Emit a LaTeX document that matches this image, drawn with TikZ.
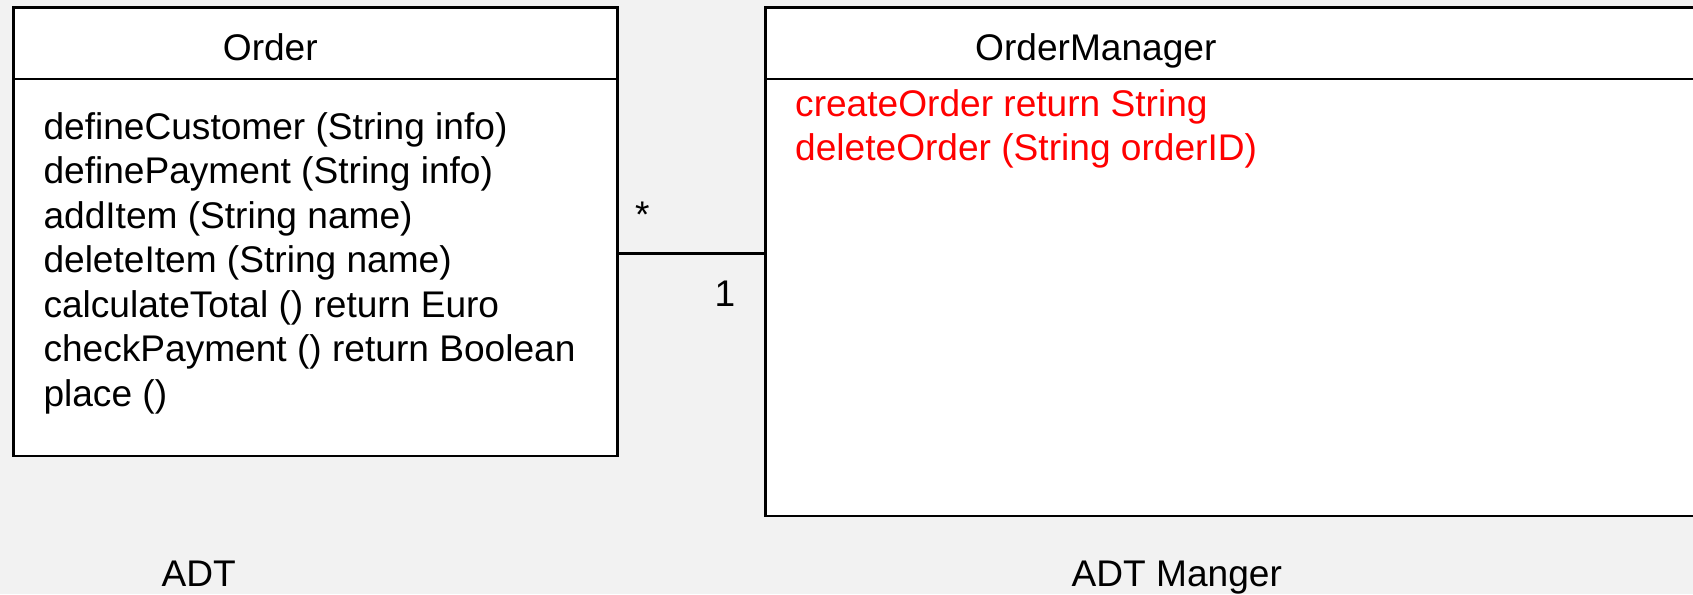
\documentclass[tikz,border=0pt]{standalone}
\usepackage{fontspec}
\setmainfont{Liberation Sans}
\definecolor{pagegray}{HTML}{F2F2F2}
\definecolor{opred}{HTML}{FF0000}

\begin{document}
\begin{tikzpicture}[x=1pt,y=-1pt,
    classbox/.style={draw=black, fill=white, line width=2.6pt, inner sep=0pt},
    txt/.style={inner sep=0pt, anchor=base west, font=\fontsize{37.1}{44.5}\selectfont},
    link/.style={draw=black, line width=2.6pt}]

    % Page
    \fill[pagegray] (0,0) rectangle (1693,594);
    \useasboundingbox (0,0) rectangle (1693,594);
    \clip (0,0) rectangle (1693,594);

    % Class boxes
    \node[classbox, minimum width=604.4pt, minimum height=448.7pt] (order) at (315.5,231.65) {};
    \node[classbox, minimum width=954.5pt, minimum height=508.7pt] (manager) at (1242.75,261.65) {};

    % Compartment lines under the names
    \coordinate (head) at (0,79);
    \draw[link] (order.west |- head) -- (order.east |- head);
    \draw[link] (manager.west |- head) -- (manager.east |- head);

    % Class names
    \node[txt] (ordername) at (222.7,60) {Order};
    \node[txt] (managername) at (975,60) {OrderManager};

    % Operations of Order
    \foreach \op [count=\i from 0] in {defineCustomer (String info),
        definePayment (String info), addItem (String name),
        deleteItem (String name), calculateTotal () return Euro,
        checkPayment () return Boolean, place ()}
        \node[txt] (op\i) at (43.3,139+44.5*\i) {\op};

    % Operations of OrderManager
    \node[txt, text=opred] (mop0) at (795,116.7) {createOrder return String};
    \node[txt, text=opred] (mop1) at (795,160.2) {deleteOrder (String orderID)};

    % Association with multiplicities
    \coordinate (assoc) at (0,253.3);
    \draw[link] (order.east |- assoc) -- (manager.west |- assoc);
    \node[txt, anchor=center] (many) at (642.3,215) {*};
    \node[txt, anchor=base] (one) at (725,306) {1};

    % Captions
    \node[txt] (adt) at (161.5,586.7) {ADT};
    \node[txt] (adtmanager) at (1071.5,586.7) {ADT Manger};

\end{tikzpicture}
\end{document}
